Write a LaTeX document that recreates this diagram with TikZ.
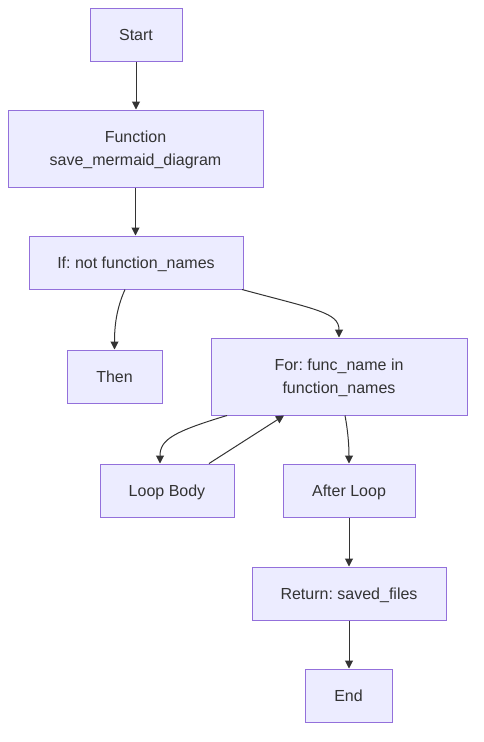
\documentclass[tikz,border=0pt]{standalone}
\usepackage{fontspec}
\setmainfont{Liberation Sans}
\frenchspacing
\usetikzlibrary{arrows.meta}
\definecolor{boxfill}{HTML}{ECECFF}
\definecolor{boxline}{HTML}{9370DB}
\definecolor{ink}{HTML}{333333}
\tikzset{
  box/.style={draw=boxline, fill=boxfill, line width=1pt, inner sep=0pt,
    align=center, text=ink, font=\fontsize{16}{23.5}\selectfont\frenchspacing},
  onebox/.style={box, text height=15pt, text depth=4pt},
  twobox/.style={box, text height=37.5pt},
  link/.style={draw=ink, line width=1pt, -{Triangle[length=8pt,width=8pt]}},
}
\begin{document}
\begin{tikzpicture}[x=1pt,y=-1pt]
\useasboundingbox (0,0) rectangle (483,742);
\node[onebox, minimum width=92pt, minimum height=53pt] (start) at (136,34.5) {Start};
\node[twobox, minimum width=255pt, minimum height=77pt] (func) at (135.5,148.5) {Function\\save\_mermaid\_diagram};
\node[onebox, minimum width=214pt, minimum height=53pt] (if) at (136,262.5) {If: not function\_names};
\node[onebox, minimum width=95pt, minimum height=53pt] (then) at (114.5,376.5) {Then};
\node[twobox, minimum width=256pt, minimum height=77pt] (for) at (339,376.5) {For: func\_name in\\function\_names};
\node[onebox, minimum width=134pt, minimum height=53pt] (body) at (167,490.5) {Loop Body};
\node[onebox, minimum width=132pt, minimum height=53pt] (after) at (349,490.5) {After Loop};
\node[onebox, minimum width=194pt, minimum height=53pt] (ret) at (349,593.5) {Return: saved\_files};
\node[onebox, minimum width=87pt, minimum height=53pt] (end) at (348.5,695.5) {End};

\draw[link] (start.south) -- (start.south |- func.north);
\draw[link] (func.south) -- (func.south |- if.north);
\draw[link] ([xshift=-11pt]if.south) .. controls ([xshift=-20pt,yshift=-20pt]if.south) and ([yshift=22pt]then.north) .. (then.north);
\draw[link] ([xshift=106pt]if.south) .. controls ([xshift=180pt,yshift=-20pt]if.south) and ([yshift=25pt]for.north) .. (for.north);
\draw[link] ([xshift=-112pt]for.south) .. controls ([xshift=-165pt,yshift=-16pt]for.south) and ([xshift=-7pt,yshift=24pt]body.north) .. ([xshift=-7pt]body.north);
\draw[link] ([xshift=42pt]body.north) -- ([xshift=-55pt]for.south);
\draw[link] ([xshift=6pt]for.south) .. controls ([xshift=9pt,yshift=-16pt]for.south) and ([yshift=18pt]after.north) .. (after.north);
\draw[link] (after.south) -- (ret.north);
\draw[link] (ret.south) -- (ret.south |- end.north);
\end{tikzpicture}
\end{document}
